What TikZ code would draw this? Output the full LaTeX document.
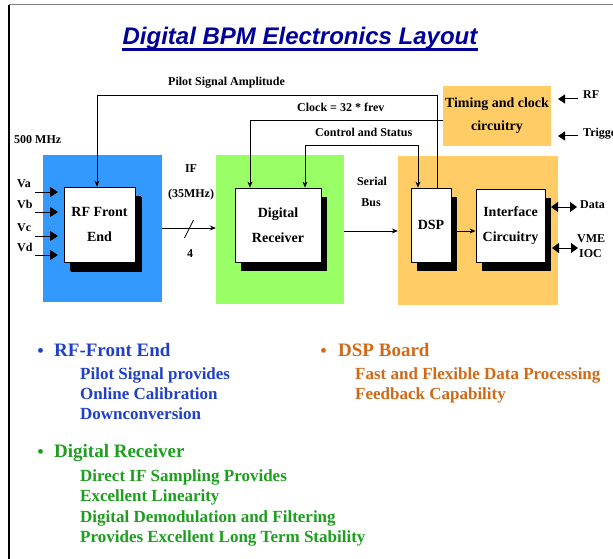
\documentclass[tikz,border=0pt]{standalone}
\usepackage{fontspec}
\setmainfont{Liberation Serif}
\newfontfamily\arialf{Liberation Sans}
\usetikzlibrary{arrows.meta,shadows,calc}
\definecolor{navy}{HTML}{000099}
\definecolor{bgblue}{HTML}{3399FF}
\definecolor{bggreen}{HTML}{99FF66}
\definecolor{bgorange}{HTML}{FFCC66}
\definecolor{tblue}{HTML}{2040C8}
\definecolor{tgreen}{HTML}{1E9E1E}
\definecolor{torange}{HTML}{D06A18}
\begin{document}
\begin{tikzpicture}[x=1pt,y=-1pt,
  lbl/.style={font=\bfseries\fontsize{12}{14}\selectfont, inner sep=0, anchor=base west},
  bgbox/.style={draw=none, inner sep=0},
  wbox/.style={draw=black, line width=0.8pt, fill=white, inner sep=0, align=center,
     font=\bfseries\fontsize{14}{25}\selectfont,
     drop shadow={shadow xshift=6pt, shadow yshift=-9pt, fill=black, opacity=1}},
  sig/.style={line width=0.8pt, -{Stealth[length=6pt,width=5pt]}},
  plain/.style={line width=0.8pt},
  bigarr/.style={line width=1pt, -{Triangle[length=8pt,width=10pt]}},
  dblarr/.style={line width=1pt, {Triangle[length=7pt,width=10pt]}-{Triangle[length=7pt,width=10pt]}},
  head/.style={font=\bfseries\fontsize{19}{22}\selectfont, inner sep=0, anchor=base west},
  sub/.style={font=\bfseries\fontsize{17}{20}\selectfont, inner sep=0, anchor=base west},
  bul/.style={font=\fontsize{20}{22}\selectfont, inner sep=0, anchor=base west}
]
\useasboundingbox (0,0) rectangle (613,559);
\fill[white] (0,0) rectangle (613,559);
% frame
\draw[gray, line width=1pt] (9,5) -- (613,5);
\draw[black, line width=1.2pt] (9,5) -- (9,559);

% title
\node[anchor=base, inner sep=0, text=navy, font=\arialf\bfseries\itshape\fontsize{24}{28}\selectfont] (title) at (300,45) {Digital BPM Electronics Layout};
\draw[navy, line width=2.4pt] ([yshift=-4.5pt]title.base west) -- ([yshift=-4.5pt]title.base east);

% background boards
\node[bgbox, fill=bgblue, minimum width=119pt, minimum height=147pt] (blue) at (102.5,228.5) {};
\node[bgbox, fill=bggreen, minimum width=128pt, minimum height=149pt] (green) at (280,229.5) {};
\node[bgbox, fill=bgorange, minimum width=160pt, minimum height=149pt] (orange) at (478,230.5) {};
\node[bgbox, fill=bgorange, minimum width=108pt, minimum height=60pt, align=center,
      font=\bfseries\fontsize{14}{23}\selectfont] (timing) at (497,116) {Timing and clock\\circuitry};

% white boxes
\node[wbox, minimum width=71pt, minimum height=75pt, drop shadow={shadow xshift=7pt, shadow yshift=-10pt, fill=black, opacity=1}] (rf) at (99.5,224.5) {RF Front\\End};
\node[wbox, minimum width=86pt, minimum height=74pt] (dr) at (278,225) {Digital\\Receiver};
\node[wbox, minimum width=40pt, minimum height=74pt] (dsp) at (431,225) {DSP};
\node[wbox, minimum width=69pt, minimum height=73pt] (intf) at (510.5,225.5) {Interface\\Circuitry};

% labels
\node[lbl] (lpilot) at (168,86) {Pilot Signal Amplitude};
\node[lbl] (lclock) at (297,112) {Clock = 32 * frev};
\node[lbl] (lctrl) at (315,137) {Control and Status};
\node[lbl] (l500) at (14,143) {500 MHz};
\node[lbl] (lrf) at (583,99) {RF};
\node[lbl] (ltrig) at (583,137) {Trigger};
\node[lbl, anchor=base] (lif) at (191,172) {IF};
\node[lbl, anchor=base] (lif2) at (191,197) {(35MHz)};
\node[lbl, anchor=base] (l4) at (190,257) {4};
\node[lbl, anchor=base] (lser) at (372,185) {Serial};
\node[lbl, anchor=base] (lbus) at (371,206) {Bus};
\node[lbl] (ldata) at (580,208) {Data};
\node[lbl] (lvme) at (577,242) {VME};
\node[lbl] (lioc) at (579,257) {IOC};
\node[lbl] (lva) at (17,187) {Va};
\node[lbl] (lvb) at (17,208) {Vb};
\node[lbl] (lvc) at (17,231) {Vc};
\node[lbl] (lvd) at (17,251) {Vd};

% input arrows
\coordinate (va0) at (35,192);   \coordinate (va1) at (58,192);
\coordinate (vb0) at (35,212);   \coordinate (vb1) at (58,212);
\coordinate (vc0) at (35,236);   \coordinate (vc1) at (58,236);
\coordinate (vd0) at (35,255);   \coordinate (vd1) at (58,255);
\draw[bigarr] (va0) -- (va1);
\draw[bigarr] (vb0) -- (vb1);
\draw[bigarr] (vc0) -- (vc1);
\draw[bigarr] (vd0) -- (vd1);

% timing inputs
\coordinate (rf0) at (578,99);  \coordinate (rf1) at (558,99);
\coordinate (tr0) at (578,136); \coordinate (tr1) at (558,136);
\draw[bigarr, -{Triangle[length=7pt,width=9pt]}] (rf0) -- (rf1);
\draw[bigarr, -{Triangle[length=7pt,width=9pt]}] (tr0) -- (tr1);

% outputs
\coordinate (da0) at (551,207); \coordinate (da1) at (577,207);
\coordinate (vm0) at (552,248); \coordinate (vm1) at (578,248);
\draw[dblarr] (da0) -- (da1);
\draw[dblarr] (vm0) -- (vm1);

% signal flow
\draw[sig] ([yshift=0.5pt]blue.east) -- ([yshift=0.5pt]blue.east -| green.west);
\coordinate (ifmid) at ($(blue.east)!0.5!(green.west)$);
\draw[plain] ([shift={(-4.5,9)}]ifmid) -- ([shift={(4.5,-9)}]ifmid);
\draw[sig] ([yshift=-1.5pt]green.east) -- ([yshift=-1.5pt]green.east -| orange.west);
\draw[sig] ([xshift=6pt,yshift=-6pt]dsp.east) -- ([yshift=-6pt]dsp.east -| intf.west);

% pilot signal
\draw[sig] ([xshift=6pt]dsp.north) -- ++(0,-92) -| ([xshift=-2.5pt]rf.north);
% clock
\draw[sig] ([yshift=-4pt]timing.west) -| ([xshift=-28pt]dr.north);
% control and status
\draw[line width=0.8pt, {Stealth[length=6pt,width=5pt]}-{Stealth[length=6pt,width=5pt]}] ([xshift=-13pt]dsp.north) -- ++(0,-42) -| ([xshift=27pt]dr.north);

% bullets
\node[bul, text=tblue] (b1) at (37,357) {•};
\node[head, text=tblue] (h1) at (54,356) {RF-Front End};
\node[sub, text=tblue] (s11) at (80,379) {Pilot Signal provides};
\node[sub, text=tblue] (s12) at (80,399) {Online Calibration};
\node[sub, text=tblue] (s13) at (80,419) {Downconversion};

\node[bul, text=torange] (b2) at (320,357) {•};
\node[head, text=torange] (h2) at (338,356) {DSP Board};
\node[sub, text=torange] (s21) at (355,379) {Fast and Flexible Data Processing};
\node[sub, text=torange] (s22) at (355,399) {Feedback Capability};

\node[bul, text=tgreen] (b3) at (37,458) {•};
\node[head, text=tgreen] (h3) at (54,457) {Digital Receiver};
\node[sub, text=tgreen] (s31) at (80,481) {Direct IF Sampling Provides};
\node[sub, text=tgreen] (s32) at (80,501) {Excellent Linearity};
\node[sub, text=tgreen] (s33) at (80,522) {Digital Demodulation and Filtering};
\node[sub, text=tgreen] (s34) at (80,542) {Provides Excellent Long Term Stability};
\end{tikzpicture}
\end{document}
